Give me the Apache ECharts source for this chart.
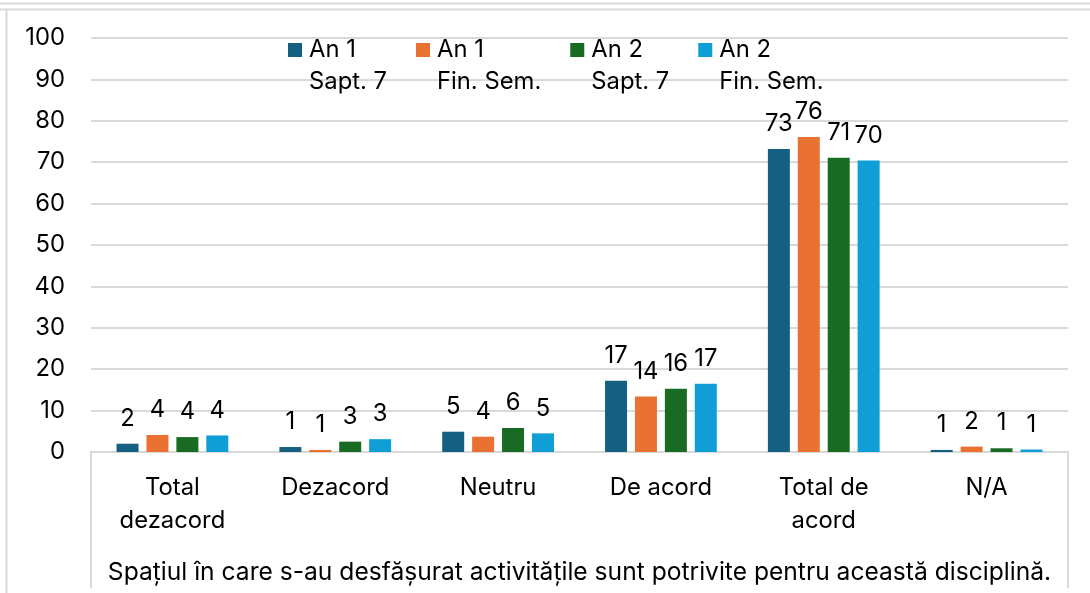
<!DOCTYPE html>
<html>
<head>
<meta charset="utf-8">
<script src="https://cdn.jsdelivr.net/npm/echarts@6/dist/echarts.min.js"></script>
<style>
html,body{margin:0;padding:0;background:#fff;}
#chart{width:1090px;height:593px;}
</style>
</head>
<body>
<div id="chart"></div>
<script>
const categories = ['Total\ndezacord', 'Dezacord', 'Neutru', 'De acord', 'Total de\nacord', 'N/A'];
const seriesNames = ['An 1\nSapt. 7', 'An 1\nFin. Sem.', 'An 2\nSapt. 7', 'An 2\nFin. Sem.'];
const an1Sapt7 = [2.0, 1.2, 4.9, 17.2, 73.2, 0.5];
const an1FinSem = [4.1, 0.5, 3.7, 13.4, 76.1, 1.3];
const an2Sapt7 = [3.6, 2.5, 5.8, 15.3, 71.1, 0.9];
const an2FinSem = [4.0, 3.1, 4.5, 16.5, 70.4, 0.6];
const an1Sapt7Labels = [2, 1, 5, 17, 73, 1];
const an1FinSemLabels = [4, 1, 4, 14, 76, 2];
const an2Sapt7Labels = [4, 3, 6, 16, 71, 1];
const an2FinSemLabels = [4, 3, 5, 17, 70, 1];
const axisTitle = 'Spațiul în care s-au desfășurat activitățile sunt potrivite pentru această disciplină.';
const yTicks = [0, 100, 10];

const colors = ['#156082', '#E97132', '#196B24', '#0F9ED5'];
const values = [an1Sapt7, an1FinSem, an2Sapt7, an2FinSem];
const labels = [an1Sapt7Labels, an1FinSemLabels, an2Sapt7Labels, an2FinSemLabels];
const FONT = 'Inter';
const FS = 23.8;

const chart = echarts.init(document.getElementById('chart'));
chart.setOption({
  animation: false,
  color: colors,
  textStyle: {fontFamily: FONT},
  graphic: [
    {type: 'line', shape: {x1: 0, y1: 3.5, x2: 1090, y2: 3.5}, style: {stroke: '#d9d9d9', lineWidth: 2}},
    {type: 'line', shape: {x1: 0, y1: 9.5, x2: 1090, y2: 9.5}, style: {stroke: '#d9d9d9', lineWidth: 2}},
    {type: 'line', shape: {x1: 6.5, y1: 9, x2: 6.5, y2: 593}, style: {stroke: '#d9d9d9', lineWidth: 2}}
  ],
  legend: {
    left: 283,
    top: -3,
    itemWidth: 14,
    itemHeight: 14,
    itemGap: 29,
    icon: 'rect',
    formatter: name => ' \n' + name,
    textStyle: {fontFamily: FONT, fontSize: FS, color: '#000', lineHeight: 32, padding: [0, 0, 0, 2]},
    data: seriesNames
  },
  grid: {left: 91, right: 22, top: 38, bottom: 141, containLabel: false},
  xAxis: [{
    type: 'category',
    data: categories,
    axisLine: {show: true, lineStyle: {color: '#d9d9d9', width: 2}},
    axisTick: {show: false},
    axisLabel: {fontFamily: FONT, fontSize: FS, color: '#000', lineHeight: 33, margin: 19, interval: 0},
    name: axisTitle,
    nameLocation: 'middle',
    nameGap: 108,
    nameTextStyle: {fontFamily: FONT, fontSize: 24.6, color: '#000'}
  }, {
    type: 'category',
    data: [''],
    position: 'bottom',
    offset: 0,
    axisLine: {show: false},
    axisTick: {show: true, length: 136, lineStyle: {color: '#d9d9d9', width: 2}},
    axisLabel: {show: false},
    splitLine: {show: false}
  }],
  yAxis: {
    type: 'value',
    min: yTicks[0],
    max: yTicks[1],
    interval: yTicks[2],
    axisLine: {show: false},
    axisTick: {show: false},
    axisLabel: {fontFamily: FONT, fontSize: FS, color: '#000', margin: 26},
    splitLine: {lineStyle: {color: '#d9d9d9', width: 2}}
  },
  series: seriesNames.map((name, i) => ({
    name: name,
    type: 'bar',
    xAxisIndex: 0,
    data: values[i],
    barWidth: 22,
    barGap: '36%',
    label: {
      show: true,
      position: 'top',
      distance: 13,
      fontFamily: FONT,
      fontSize: FS,
      color: '#000',
      formatter: p => String(labels[i][p.dataIndex])
    }
  }))
});
</script>
</body>
</html>
